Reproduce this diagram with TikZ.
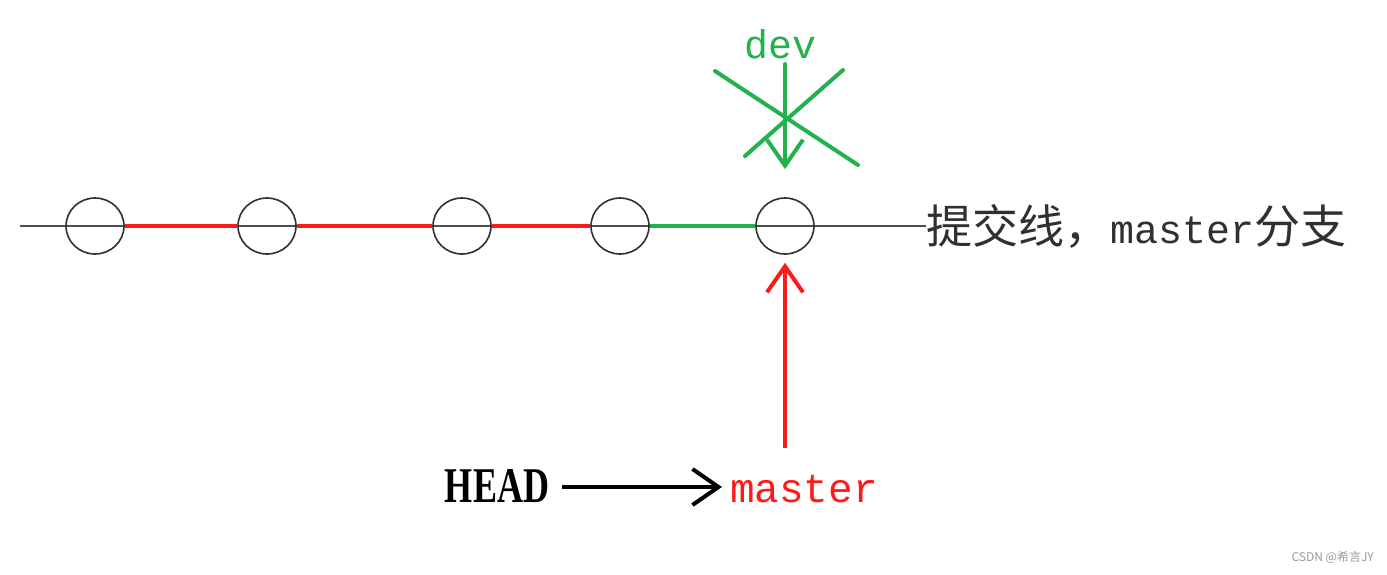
\documentclass[tikz,border=0pt]{standalone}
\usepackage{fontspec}
\setmainfont{Liberation Serif}
\newfontfamily\cjkf{Noto Sans CJK SC}
\newfontfamily\monof{Liberation Mono}
\usetikzlibrary{shapes.geometric,arrows.meta}
\definecolor{lineg}{HTML}{505050}
\definecolor{circg}{HTML}{303030}
\definecolor{gitred}{HTML}{FF1A1A}
\definecolor{gitgreen}{HTML}{22B14C}
\definecolor{wmgray}{HTML}{9A9A9A}
\tikzset{
  commit/.style={ellipse,draw=circg,line width=1.6pt,minimum width=58pt,minimum height=56pt,inner sep=0pt},
  grayline/.style={draw=lineg,line width=2.8pt},
  redseg/.style={draw=gitred,line width=4pt},
  greenseg/.style={draw=gitgreen,line width=4pt},
  greenstroke/.style={draw=gitgreen,line width=4pt,line cap=round},
  barb/.style={-{Straight Barb[length=26pt,width=36pt,line width=4pt]}},
}
\begin{document}
\begin{tikzpicture}[x=1pt,y=-1pt]
\useasboundingbox[fill=white] (0,0) rectangle (1387,574);
% commit nodes
\coordinate (c1) at (95,226);
\coordinate (c2) at (267,226);
\coordinate (c3) at (462,226);
\coordinate (c4) at (620,226);
\coordinate (c5) at (785,226);
\coordinate (lstart) at (20,226);
\node[anchor=west,inner sep=0pt,text=circg] (label) at (926,226)
  {\cjkf\fontsize{46pt}{50pt}\selectfont 提交线，{\monof\fontsize{40pt}{42pt}\selectfont master}分支};
\draw[grayline] (lstart) -- (label.west);
\node[commit] (n1) at (c1) {};
\node[commit] (n2) at (c2) {};
\node[commit] (n3) at (c3) {};
\node[commit] (n4) at (c4) {};
\node[commit] (n5) at (c5) {};
\draw[redseg] (n1.east) -- (n2.west);
\draw[redseg] (n2.east) -- (n3.west);
\draw[redseg] (n3.east) -- (n4.west);
\draw[greenseg] (n4.east) -- (n5.west);
% dev
\node[anchor=base,inner sep=0pt,text=gitgreen] (dev) at (780,58)
  {\monof\fontsize{40pt}{42pt}\selectfont dev};
\coordinate (devtail) at (785,64);
\draw[greenstroke,barb] (devtail) -- ([yshift=28pt]n5.north);
\draw[greenstroke] (715,71) -- (858,165);
\draw[greenstroke] (745,156) -- (843,70);
% HEAD -> master
\node[anchor=base,inner sep=0pt] (head) at (497,502)
  {\scalebox{0.72}[1]{\bfseries\fontsize{50pt}{52pt}\selectfont HEAD}};
\node[anchor=base,inner sep=0pt,text=gitred] (master) at (804,502)
  {\monof\fontsize{41pt}{43pt}\selectfont master};
\draw[line width=4pt,barb,shorten <=13pt,shorten >=8pt] (head.east |- 0,487) -- (master.west |- 0,487);
\coordinate (mtail) at (785,448);
\draw[draw=gitred,line width=3.5pt,barb] (mtail) -- ([yshift=-8pt]n5.south);
% watermark
\node[anchor=east,inner sep=0pt,text=wmgray] (wm) at (1374,557)
  {\cjkf\fontsize{12pt}{14pt}\selectfont CSDN @希言JY};
\end{tikzpicture}
\end{document}
